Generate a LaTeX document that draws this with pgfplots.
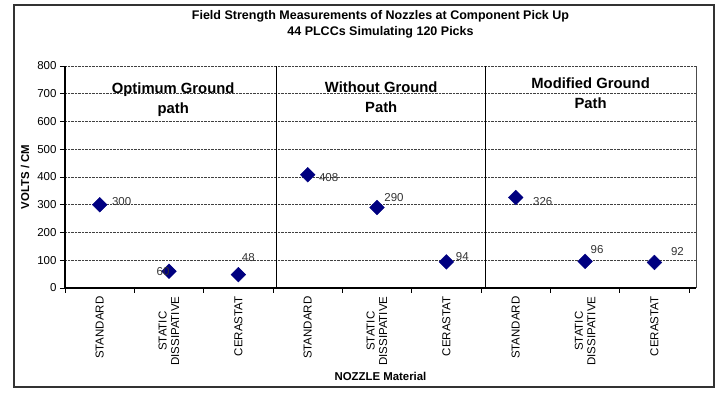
\documentclass[border=0pt]{standalone}
\usepackage{fontspec}
\setmainfont{Liberation Sans}
\usepackage{pgfplots}
\pgfplotsset{compat=1.18}
\definecolor{navy}{RGB}{0,0,128}

\pgfplotstableread{
x y lab dx dy
1 300 300 22 3
2 60  60  -6 0
3 48  48  10 17
4 408 408 21 -3
5 290 290 17 10
6 94  94  16 5
7 326 326 27 -4
8 96  96  12 12
9 92  92  23 11
}\picks

\begin{document}
\begin{tikzpicture}
\begin{axis}[
  scale only axis, width=631pt, height=222pt,
  xmin=0.5, xmax=9.6, ymin=0, ymax=800,
  axis x line*=bottom, axis y line*=left,
  axis line style={-, line width=1.2pt, black},
  xtick={1,...,9},
  xticklabels={STANDARD, {STATIC\\DISSIPATIVE}, CERASTAT,
               STANDARD, {STATIC\\DISSIPATIVE}, CERASTAT,
               STANDARD, {STATIC\\DISSIPATIVE}, CERASTAT},
  xticklabel style={rotate=90, anchor=east, align=center,
                    font=\fontsize{11.5}{12.5}\selectfont},
  major x tick style={draw=none},
  minor xtick={0.5,1.5,...,9.5},
  ytick={0,100,...,800},
  yticklabel style={font=\fontsize{11.5}{12}\selectfont},
  /pgf/number format/assume math mode=true,
  tick align=outside, major tick length=5pt, minor tick length=5pt,
  tick style={black, line width=0.8pt},
  ymajorgrids, major grid style={black!75, densely dotted, line width=0.7pt},
  extra x ticks={3.55,6.56}, extra x tick labels={},
  extra x tick style={major tick length=0pt, xmajorgrids,
                      major grid style={black, solid, line width=0.7pt}},
  clip=false,
]
\addplot[only marks, mark=square*, mark size=5.2pt,
  mark options={rotate=45, fill=navy, draw=navy},
  point meta=explicit symbolic,
  visualization depends on={\thisrow{dx}\as\dx},
  visualization depends on={\thisrow{dy}\as\dy},
  nodes near coords,
  nodes near coords style={anchor=center, xshift=\dx pt, yshift=\dy pt,
                           font=\fontsize{11.5}{12}\selectfont, black!80},
] table[x=x, y=y, meta=lab] {\picks};

\draw[black!70, line width=0.8pt] (rel axis cs:1,0) -- (rel axis cs:1,1);

\node[align=center, font=\bfseries\fontsize{14.8}{20}\selectfont] at (axis cs:2.06,677) {Optimum Ground\\path};
\node[align=center, font=\bfseries\fontsize{14.8}{20}\selectfont] at (axis cs:5.06,688) {Without Ground\\Path};
\node[align=center, font=\bfseries\fontsize{14.8}{20}\selectfont] at (axis cs:8.08,703) {Modified Ground\\Path};

\node[align=center, font=\bfseries\fontsize{12.5}{16}\selectfont]
  at ([yshift=42pt]rel axis cs:0.5,1) {Field Strength Measurements of Nozzles at Component Pick Up\\44 PLCCs Simulating 120 Picks};
\node[rotate=90, font=\bfseries\fontsize{11.4}{12}\selectfont]
  at ([xshift=-40pt]rel axis cs:0,0.5) {VOLTS / CM};
\node[font=\bfseries\fontsize{11.4}{12}\selectfont]
  at ([yshift=-88pt]rel axis cs:0.5,0) {NOZZLE Material};

\draw[black!80, line width=1.2pt] (rel axis cs:0,0) ++(-51pt,-99pt) rectangle ++(700pt,382pt);
\path (rel axis cs:0,0) ++(-65pt,-105pt) rectangle ++(726pt,393pt);
\end{axis}
\end{tikzpicture}
\end{document}
